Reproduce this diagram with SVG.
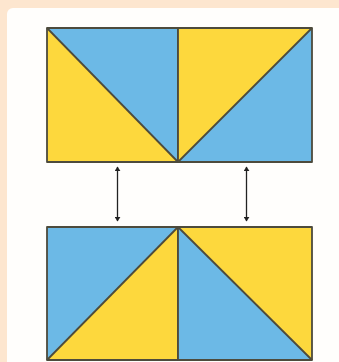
<svg xmlns="http://www.w3.org/2000/svg" width="339" height="362" viewBox="0 0 339 362">
<defs>
<style>
.b{fill:#6cb9e6}
.y{fill:#fdd83d}
.e{fill:none;stroke:#4d4b3c;stroke-width:1.8;stroke-linejoin:round}
.c{stroke:#222;stroke-width:1.3;fill:none}
</style>
<marker id="ah" viewBox="0 0 8 10" refX="7" refY="5" markerWidth="5" markerHeight="6" orient="auto-start-reverse" markerUnits="userSpaceOnUse">
<path d="M0,0 L8,5 L0,10 Z" fill="#222"/>
</marker>
</defs>
<rect width="339" height="362" fill="#fde6cf"/>
<rect x="7" y="8" width="340" height="370" rx="6" fill="#fffefc"/>
<g id="top-left">
<polygon class="y" points="47,28 178,162 47,162"/>
<polygon class="b" points="47,28 178,28 178,162"/>
<rect class="e" x="47" y="28" width="131" height="134"/>
<line class="e" x1="47" y1="28" x2="178" y2="162"/>
</g>
<g id="top-right">
<polygon class="y" points="178,28 312,28 178,162"/>
<polygon class="b" points="312,28 312,162 178,162"/>
<rect class="e" x="178" y="28" width="134" height="134"/>
<line class="e" x1="178" y1="162" x2="312" y2="28"/>
</g>
<g id="bottom-left">
<polygon class="b" points="47,227 178,227 47,360"/>
<polygon class="y" points="178,227 178,360 47,360"/>
<rect class="e" x="47" y="227" width="131" height="133"/>
<line class="e" x1="47" y1="360" x2="178" y2="227"/>
</g>
<g id="bottom-right">
<polygon class="y" points="178,227 312,227 312,360"/>
<polygon class="b" points="178,227 312,360 178,360"/>
<rect class="e" x="178" y="227" width="134" height="133"/>
<line class="e" x1="178" y1="227" x2="312" y2="360"/>
</g>
<g id="connectors">
<line class="c" x1="117.5" y1="167" x2="117.5" y2="221" marker-start="url(#ah)" marker-end="url(#ah)"/>
<line class="c" x1="246.5" y1="167" x2="246.5" y2="221" marker-start="url(#ah)" marker-end="url(#ah)"/>
</g>
</svg>
